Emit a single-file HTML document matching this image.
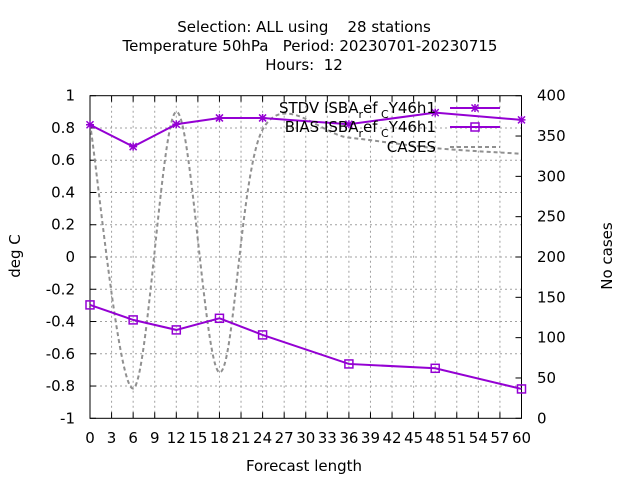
<!DOCTYPE html>
<html><head><meta charset="utf-8"><style>
body{margin:0;background:#fff}
svg{display:block;font-family:"DejaVu Sans","Liberation Sans",sans-serif}
text{white-space:pre}
</style></head><body>
<svg id="chart" width="640" height="480" xml:space="preserve">
<text x="304" y="32" text-anchor="middle" font-size="15">Selection: ALL using    28 stations</text>
<text x="310" y="51" text-anchor="middle" font-size="15">Temperature 50hPa   Period: 20230701-20230715</text>
<text x="304" y="70" text-anchor="middle" font-size="15">Hours:  12</text>
<text x="20" y="256" text-anchor="middle" font-size="15" transform="rotate(-90 20 256)">deg C</text>
<text x="612" y="256" text-anchor="middle" font-size="15" transform="rotate(-90 612 256)">No cases</text>
<text x="304" y="471" text-anchor="middle" font-size="15">Forecast length</text>
<g id="grid"></g><g id="axes"></g><g id="series"></g><g id="legend"></g>
</svg>
<script>
const hours=[0,6,12,18,24,36,48,60];
const stdv=[0.82,0.684,0.823,0.862,0.862,0.823,0.895,0.85];
const bias=[-0.297,-0.39,-0.452,-0.38,-0.483,-0.663,-0.69,-0.818];
const cases=[365,37,380,57,358,348,335,328];
const xTicks=[0,3,6,9,12,15,18,21,24,27,30,33,36,39,42,45,48,51,54,57,60];
const yTicks=[1,0.8,0.6,0.4,0.2,0,-0.2,-0.4,-0.6,-0.8,-1];
const y2Ticks=[400,350,300,250,200,150,100,50,0];
const X0=90,X1=521.5,Y0=95.7,Y1=418.3;
const NS="http://www.w3.org/2000/svg";
const xs=h=>X0+(h/60)*(X1-X0);
const ys=v=>Y1-(v+1)/2*(Y1-Y0);
const y2s=v=>Y1-v/400*(Y1-Y0);
function mk(t,a,p){const e=document.createElementNS(NS,t);for(const k in a)e.setAttribute(k,a[k]);p.appendChild(e);return e;}
const G=document.getElementById('grid'),A=document.getElementById('axes'),S=document.getElementById('series'),L=document.getElementById('legend');
xTicks.forEach(h=>{const x=xs(h);
 if(h>0&&h<60){const g=mk('line',{x1:x,x2:x,y1:Y0,y2:Y1,stroke:'#a0a0a0','stroke-dasharray':'2,3','stroke-width':1},G);}
 mk('line',{x1:x,x2:x,y1:Y1,y2:Y1-6,stroke:'#000'},A);mk('line',{x1:x,x2:x,y1:Y0,y2:Y0+6,stroke:'#000'},A);
 const t=mk('text',{x:x,y:443,'text-anchor':'middle','font-size':15},A);t.textContent=h;
 });
yTicks.forEach(v=>{const y=ys(v);
 if(v>-1&&v<1){const g=mk('line',{x1:X0,x2:X1,y1:y,y2:y,stroke:'#a0a0a0','stroke-dasharray':'2,3','stroke-width':1},G);}
 mk('line',{x1:X0,x2:X0+6,y1:y,y2:y,stroke:'#000'},A);
 const t=mk('text',{x:75,y:y+5,'text-anchor':'end','font-size':15},A);t.textContent=v;
 });
y2Ticks.forEach(v=>{const y=y2s(v);
 mk('line',{x1:X1,x2:X1-6,y1:y,y2:y,stroke:'#000'},A);
 const t=mk('text',{x:537,y:y+5,'font-size':15},A);t.textContent=v;
 });
const fr=mk('rect',{x:X0,y:Y0,width:X1-X0,height:Y1-Y0,fill:'none',stroke:'#000','stroke-width':1},A);

// Catmull-Rom curve for cases
const P=hours.map((h,i)=>[xs(h),y2s(cases[i])]);
let d='M'+P[0][0]+','+P[0][1];
for(let i=0;i<P.length-1;i++){const p0=P[Math.max(i-1,0)],p1=P[i],p2=P[i+1],p3=P[Math.min(i+2,P.length-1)];
 const c1=[p1[0]+(p2[0]-p0[0])/6,p1[1]+(p2[1]-p0[1])/6],c2=[p2[0]-(p3[0]-p1[0])/6,p2[1]-(p3[1]-p1[1])/6];
 d+=` C${c1[0]},${c1[1]} ${c2[0]},${c2[1]} ${p2[0]},${p2[1]}`;}
const cl=mk('path',{d:d,fill:'none',stroke:'#909090','stroke-width':2,'stroke-dasharray':'4,3'},S);

const col='#9400d3';
const sl=mk('polyline',{points:hours.map((h,i)=>xs(h)+','+ys(stdv[i])).join(' '),fill:'none',stroke:col,'stroke-width':2},S);

const bl=mk('polyline',{points:hours.map((h,i)=>xs(h)+','+ys(bias[i])).join(' '),fill:'none',stroke:col,'stroke-width':2},S);

function star(x,y,p){return mk('path',{d:`M${x-4},${y}h8M${x},${y-4}v8M${x-3.5},${y-3.5}l7,7M${x-3.5},${y+3.5}l7,-7`,stroke:col,'stroke-width':1.5},p);}
function box(x,y,p){return mk('rect',{x:x-4,y:y-4,width:8,height:8,fill:'none',stroke:col,'stroke-width':1.5},p);}
hours.forEach((h,i)=>{const m=star(xs(h),ys(stdv[i]),S);
 const q=box(xs(h),ys(bias[i]),S);});
const lab=['STDV ISBA','BIAS ISBA','CASES'];
[108,127,147].forEach((y,i)=>{
 const t=mk('text',{x:436,y:y+5,'text-anchor':'end','font-size':15},L);
 if(i<2){t.innerHTML=lab[i]+'<tspan dy="5" font-size="11">r</tspan><tspan dy="-5">ef</tspan><tspan dy="5" font-size="11"> C</tspan><tspan dy="-5">Y46h1</tspan>';}
 else t.textContent='CASES';
 
 const ln=mk('line',{x1:450,x2:500,y1:y,y2:y,stroke:i<2?col:'#909090','stroke-width':2,'stroke-dasharray':i<2?'none':'4,3'},L);
 
 if(i==0)star(475,y,L);if(i==1)box(475,y,L);});
</script>
</body></html>
